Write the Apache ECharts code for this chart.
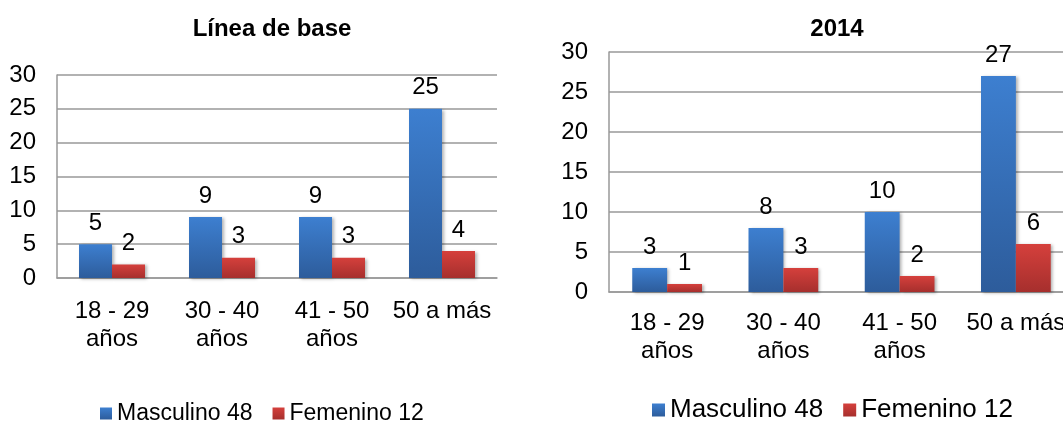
<!DOCTYPE html>
<html>
<head>
<meta charset="utf-8">
<script src="https://cdn.jsdelivr.net/npm/echarts@6/dist/echarts.min.js"></script>
<style>
  html, body { margin: 0; padding: 0; background: #fff; overflow: hidden; }
  #main { width: 1080px; height: 421px; }
</style>
</head>
<body>
<div id="main"></div>
<script>
  // datos de los dos graficos
  var categorias = ['18 - 29\naños', '30 - 40\naños', '41 - 50\naños', '50 a más'];
  var masculinoBase = [5, 9, 9, 25];
  var femeninoBase = [2, 3, 3, 4];
  var masculino2014 = [3, 8, 10, 27];
  var femenino2014 = [1, 3, 2, 6];
  var yTicks = [0, 5, 10, 15, 20, 25, 30];

  var fuente = '"Liberation Sans", Arial, sans-serif';

  var azul = new echarts.graphic.LinearGradient(0, 0, 0, 1, [
    { offset: 0, color: '#3d7fd0' },
    { offset: 1, color: '#2d5c9b' }
  ]);
  var rojo = new echarts.graphic.LinearGradient(0, 0, 0, 1, [
    { offset: 0, color: '#d5403c' },
    { offset: 1, color: '#a62f2d' }
  ]);

  function serie(nombre, datos, color, idx) {
    return {
      name: nombre,
      type: 'bar',
      xAxisIndex: idx,
      yAxisIndex: idx,
      data: datos,
      barGap: '0%',
      barCategoryGap: '40%',
      itemStyle: {
        color: color,
        shadowBlur: 3,
        shadowColor: 'rgba(0,0,0,0.3)',
        shadowOffsetX: 2,
        shadowOffsetY: 1
      },
      label: {
        show: true,
        position: 'top',
        distance: 9,
        color: '#000',
        fontSize: 24,
        fontFamily: fuente
      }
    };
  }

  function ejeX(idx, margen) {
    return {
      type: 'category',
      gridIndex: idx,
      data: categorias,
      axisTick: { show: false },
      axisLine: { lineStyle: { color: '#999', width: 1.5 } },
      axisLabel: {
        color: '#000',
        fontSize: 24,
        fontFamily: fuente,
        margin: margen,
        lineHeight: 28,
        interval: 0,
        verticalAlign: 'top'
      }
    };
  }

  function ejeY(idx) {
    return {
      type: 'value',
      gridIndex: idx,
      min: yTicks[0],
      max: yTicks[yTicks.length - 1],
      interval: yTicks[1] - yTicks[0],
      axisLine: { show: true, lineStyle: { color: '#999', width: 1.5 } },
      axisTick: { show: false },
      splitLine: { lineStyle: { color: '#999', width: 1.5 } },
      axisLabel: {
        color: '#000',
        fontSize: 24,
        fontFamily: fuente,
        margin: 21
      }
    };
  }

  var myChart = echarts.init(document.getElementById('main'));

  myChart.setOption({
    animation: false,
    title: [
      {
        text: 'Línea de base',
        left: 267,
        top: 12,
        textAlign: 'center',
        textStyle: { fontSize: 24, fontWeight: 'bold', color: '#000', fontFamily: fuente }
      },
      {
        text: '2014',
        left: 832,
        top: 12,
        textAlign: 'center',
        textStyle: { fontSize: 24, fontWeight: 'bold', color: '#000', fontFamily: fuente }
      }
    ],
    legend: [
      {
        data: ['Masculino 48', 'Femenino 12'],
        left: 95,
        top: 397,
        icon: 'rect',
        itemWidth: 12,
        itemHeight: 12,
        itemGap: 20,
        selectedMode: false,
        textStyle: { fontSize: 23, color: '#000', fontFamily: fuente }
      },
      {
        data: ['Masculino 48', 'Femenino 12'],
        left: 647,
        top: 392,
        icon: 'rect',
        itemWidth: 13,
        itemHeight: 13,
        itemGap: 20,
        selectedMode: false,
        textStyle: { fontSize: 26, color: '#000', fontFamily: fuente }
      }
    ],
    grid: [
      { left: 57, top: 75, width: 440, height: 203 },
      { left: 609, top: 52, width: 465, height: 240 }
    ],
    xAxis: [ejeX(0, 19), ejeX(1, 17)],
    yAxis: [ejeY(0), ejeY(1)],
    series: [
      serie('Masculino 48', masculinoBase, azul, 0),
      serie('Femenino 12', femeninoBase, rojo, 0),
      serie('Masculino 48', masculino2014, azul, 1),
      serie('Femenino 12', femenino2014, rojo, 1)
    ]
  });
</script>
</body>
</html>
